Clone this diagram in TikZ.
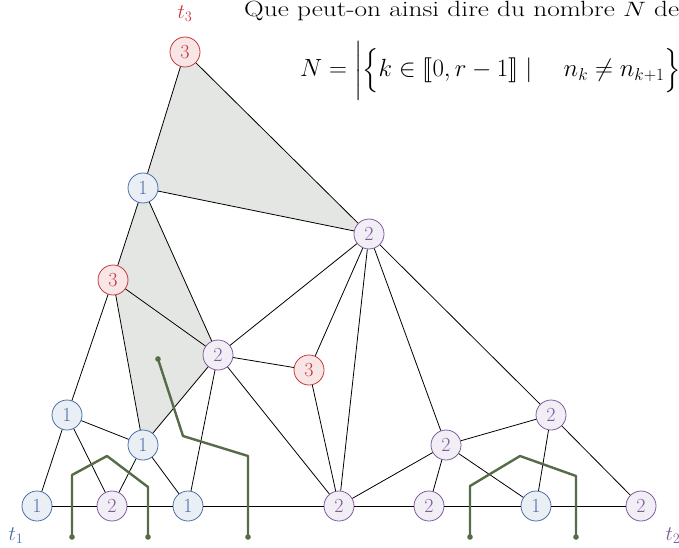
\documentclass[tikz,border=0pt]{standalone}
\usepackage{amsmath,amssymb,stmaryrd}
\usetikzlibrary{backgrounds}

\definecolor{cbleu}{HTML}{4A6FA5}
\definecolor{cbleufond}{HTML}{EAEFF6}
\definecolor{cviolet}{HTML}{7E5B9B}
\definecolor{cviolfond}{HTML}{F2EEF6}
\definecolor{crouge}{HTML}{C8373A}
\definecolor{crougefond}{HTML}{F8E6E6}
\definecolor{cvert}{HTML}{566B47}
\definecolor{cgris}{HTML}{E4E6E3}

\tikzset{
  sommet/.style={circle, draw, line width=0.8pt, minimum size=30pt, inner sep=0pt,
                 font=\fontsize{20}{24}\selectfont},
  s1/.style={sommet, draw=cbleu, fill=cbleufond, text=cbleu},
  s2/.style={sommet, draw=cviolet, fill=cviolfond, text=cviolet},
  s3/.style={sommet, draw=crouge, fill=crougefond, text=crouge},
  arete/.style={line width=0.8pt},
  chemin/.style={line width=2.4pt, draw=cvert, line join=round},
  bout/.style={fill=cvert},
  etiq/.style={font=\fontsize{20}{24}\selectfont},
}

\begin{document}
\begin{tikzpicture}[x=1pt, y=-1pt]

  %% ════ texte du haut ════
  \node[anchor=base west, inner sep=0pt, font=\fontsize{22}{26}\selectfont] (titre) at (244,17)
    {\scalebox{1.24}[1]{Que peut-on ainsi dire du nombre $N$ de}};
  \node[anchor=base west, inner sep=0pt, font=\fontsize{24.6}{29}\selectfont] (formule) at (300,77)
    {$N = \biggl|\Bigl\{ k \in \llbracket 0, r-1 \rrbracket \mid \quad n_k \neq n_{k+1} \Bigr\}\biggr|$};

  %% ════ sommets ════
  \node[s3] (v1) at (185,52) {3};
  \node[s1] (v2) at (143,188) {1};
  \node[s2] (v3) at (369,234) {2};
  \node[s3] (v4) at (113,280) {3};
  \node[s2] (v5) at (218,355) {2};
  \node[s3] (v6) at (309,370) {3};
  \node[s1] (v7) at (67,415) {1};
  \node[s1] (v8) at (143,445) {1};
  \node[s2] (v9) at (446,445) {2};
  \node[s2] (v10) at (551,415) {2};
  % ligne du bas
  \node[s1] (b1) at (37,506) {1};
  \node[s2] (b2) at (112,506) {2};
  \node[s1] (b3) at (188,506) {1};
  \node[s2] (b4) at (339,506) {2};
  \node[s2] (b5) at (429,506) {2};
  \node[s1] (b6) at (536,506) {1};
  \node[s2] (b7) at (641,506) {2};

  %% ════ faces grisées ════
  \begin{scope}[on background layer]
    \fill[cgris] (v1.center) -- (v2.center) -- (v3.center) -- cycle;
    \fill[cgris] (v2.center) -- (v4.center) -- (v8.center) -- (v5.center) -- cycle;
  \end{scope}

  %% ════ arêtes ════
  \draw[arete] (v1) -- (v2);  \draw[arete] (v1) -- (v3);
  \draw[arete] (v2) -- (v3);  \draw[arete] (v2) -- (v4);  \draw[arete] (v2) -- (v5);
  \draw[arete] (v4) -- (v5);  \draw[arete] (v4) -- (v7);  \draw[arete] (v4) -- (v8);
  \draw[arete] (v3) -- (v5);  \draw[arete] (v3) -- (v6);  \draw[arete] (v3) -- (b4);
  \draw[arete] (v3) -- (v9);  \draw[arete] (v3) -- (v10);
  \draw[arete] (v5) -- (v6);  \draw[arete] (v5) -- (v8);  \draw[arete] (v5) -- (b3);
  \draw[arete] (v5) -- (b4);  \draw[arete] (v6) -- (b4);
  \draw[arete] (v7) -- (b1);  \draw[arete] (v7) -- (b2);  \draw[arete] (v7) -- (v8);
  \draw[arete] (v8) -- (b2);  \draw[arete] (v8) -- (b3);
  \draw[arete] (v9) -- (b4);  \draw[arete] (v9) -- (b5);  \draw[arete] (v9) -- (b6);
  \draw[arete] (v9) -- (v10); \draw[arete] (v10) -- (b6); \draw[arete] (v10) -- (b7);
  \draw[arete] (b1) -- (b2) -- (b3) -- (b4) -- (b5) -- (b6) -- (b7);

  %% ════ chemins verts ════
  \draw[chemin] (158,359) -- (183,436) -- (248,456) -- (248,537);
  \draw[chemin] (72,537) -- (72,475) -- (107,456) -- (148,487) -- (148,537);
  \draw[chemin] (470,537) -- (470,486) -- (520,456) -- (576,476) -- (576,537);
  \foreach \p in {(158,359),(248,537),(72,537),(148,537),(470,537),(576,537)}
    \fill[bout] \p circle (2.8);

  %% ════ étiquettes ════
  \node[etiq, text=crouge] (t3) at (185,14) {$t_3$};
  \node[etiq, text=cbleu] (t1) at (16,536) {$t_1$};
  \node[etiq, text=cviolet] (t2) at (673,536) {$t_2$};

  \pgfresetboundingbox
  \path[use as bounding box] (0,0) rectangle (679,548);
\end{tikzpicture}
\end{document}
